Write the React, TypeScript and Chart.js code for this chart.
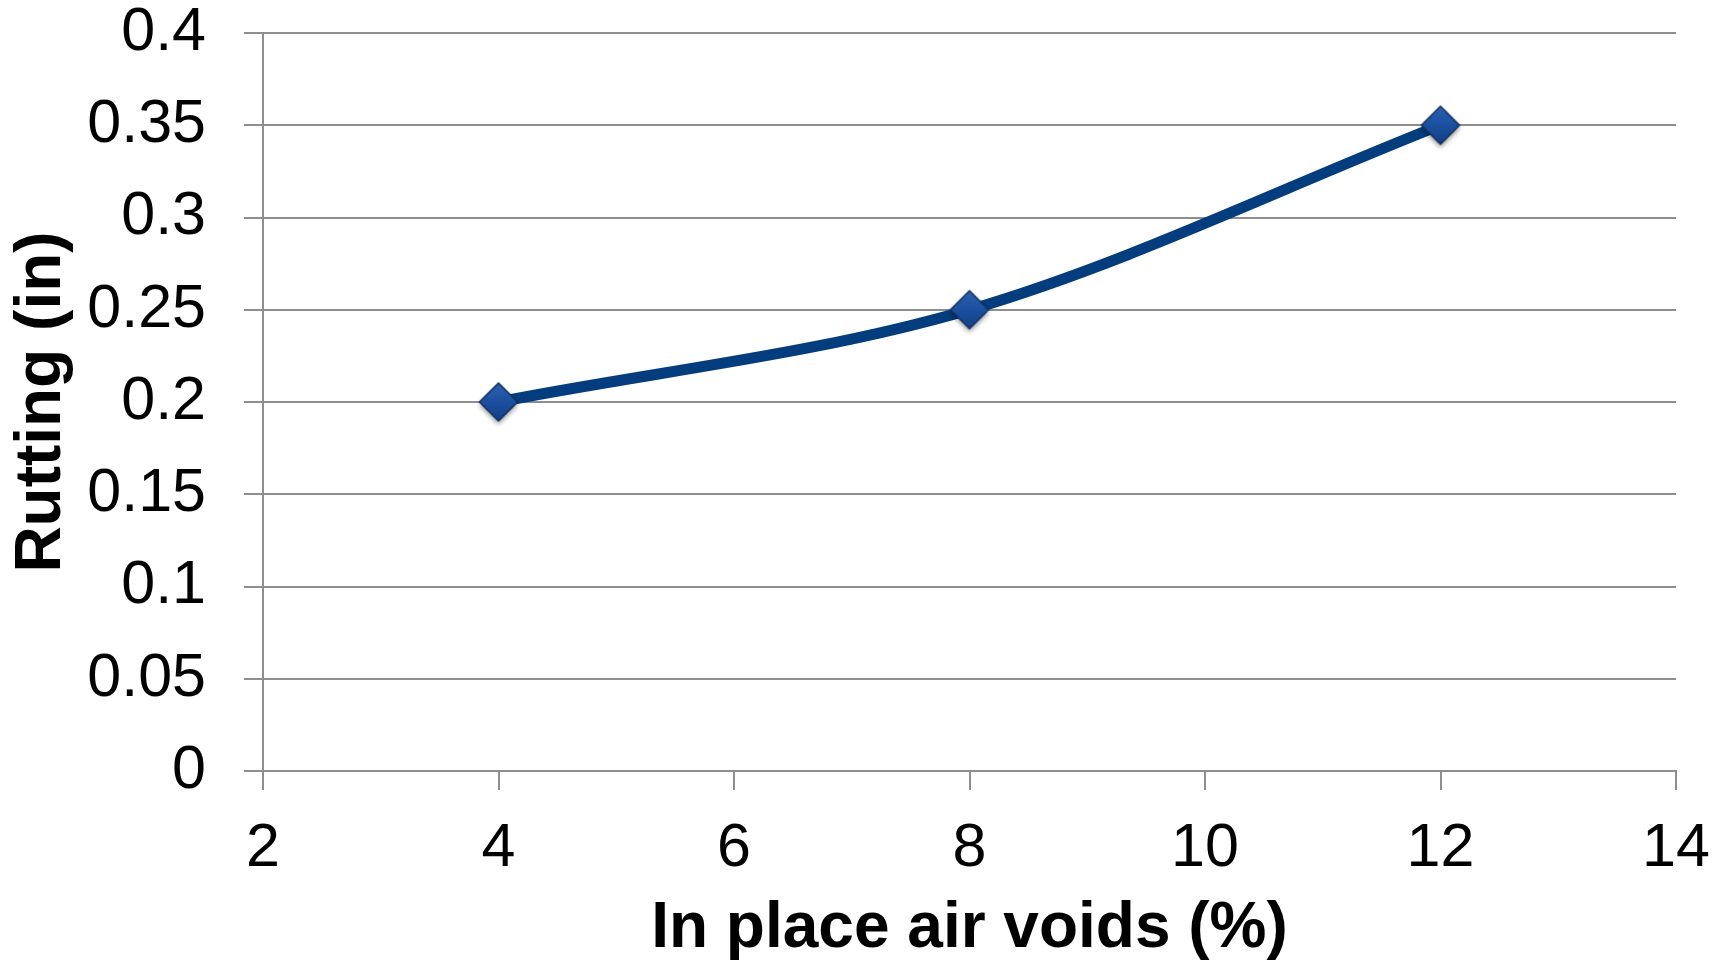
import React, { useEffect, useRef } from "react";
import { Chart, registerables } from "chart.js";

Chart.register(...registerables);

const airVoids = [4, 8, 12];
const rutting = [0.2, 0.25, 0.35];
const xTicks = [2, 4, 6, 8, 10, 12, 14];
const yTicks = [0, 0.05, 0.1, 0.15, 0.2, 0.25, 0.3, 0.35, 0.4];
const xTitle = "In place air voids (%)";
const yTitle = "Rutting (in)";

const W = 1726;
const H = 962;
const FONT = "'Liberation Sans', Arial, Helvetica, sans-serif";
const GRID = "#8e8e8e";

function makeDiamond(): HTMLCanvasElement {
  const size = 56;
  const c = document.createElement("canvas");
  c.width = size;
  c.height = size;
  const g = c.getContext("2d")!;
  const cx = size / 2;
  const cy = size / 2;
  const r = 19;
  g.save();
  g.shadowColor = "rgba(0,0,0,0.45)";
  g.shadowBlur = 5;
  g.shadowOffsetY = 3;
  g.beginPath();
  g.moveTo(cx, cy - r);
  g.lineTo(cx + r, cy);
  g.lineTo(cx, cy + r);
  g.lineTo(cx - r, cy);
  g.closePath();
  const grad = g.createLinearGradient(0, cy - r, 0, cy + r);
  grad.addColorStop(0, "#2d61b0");
  grad.addColorStop(0.5, "#1b4f9f");
  grad.addColorStop(1, "#143f85");
  g.fillStyle = grad;
  g.fill();
  g.restore();
  g.lineWidth = 1.5;
  g.strokeStyle = "#10305f";
  g.beginPath();
  g.moveTo(cx, cy - r);
  g.lineTo(cx + r, cy);
  g.lineTo(cx, cy + r);
  g.lineTo(cx - r, cy);
  g.closePath();
  g.stroke();
  return c;
}

export default function App() {
  const ref = useRef<HTMLCanvasElement | null>(null);

  useEffect(() => {
    document.body.style.margin = "0";
    const canvas = ref.current;
    if (!canvas) return;
    const marker = makeDiamond();
    const chart = new Chart(canvas, {
      type: "line",
      data: {
        datasets: [
          {
            data: airVoids.map((x, i) => ({ x, y: rutting[i] })),
            borderColor: "#033d7d",
            borderWidth: 11,
            tension: 0.33,
            pointStyle: marker as any,
            pointRadius: 19,
            fill: false,
          },
        ],
      },
      options: {
        animation: false,
        responsive: false,
        maintainAspectRatio: false,
        devicePixelRatio: 1,
        layout: { padding: { left: 0, right: 50, top: 33, bottom: 0 } },
        plugins: { legend: { display: false }, tooltip: { enabled: false } },
        scales: {
          x: {
            type: "linear",
            min: xTicks[0],
            max: xTicks[xTicks.length - 1],
            afterBuildTicks: (s: any) => {
              s.ticks = xTicks.map((v) => ({ value: v }));
            },
            afterFit: (s: any) => {
              s.height = H - 771;
              s.paddingLeft = 0;
              s.paddingRight = 0;
            },
            ticks: {
              callback: (v: any) => String(v),
              font: { family: FONT, size: 61 },
              color: "#000",
              padding: 23,
              maxRotation: 0,
              autoSkip: false,
            },
            grid: {
              drawOnChartArea: false,
              drawTicks: true,
              tickLength: 19,
              color: GRID,
              lineWidth: 2,
            },
            border: { display: true, color: GRID, width: 2 },
            title: {
              display: true,
              text: xTitle,
              font: { family: FONT, size: 64, weight: "bold", lineHeight: 1 },
              color: "#000",
              padding: { top: 0, bottom: 1 },
            },
          },
          y: {
            type: "linear",
            min: yTicks[0],
            max: yTicks[yTicks.length - 1],
            afterBuildTicks: (s: any) => {
              s.ticks = yTicks.map((v) => ({ value: v }));
            },
            afterFit: (s: any) => {
              s.width = 263;
              s.paddingTop = 0;
              s.paddingBottom = 0;
            },
            ticks: {
              callback: (v: any) => String(Number(Number(v).toFixed(2))),
              font: { family: FONT, size: 61 },
              color: "#000",
              padding: 38,
              autoSkip: false,
            },
            grid: {
              drawOnChartArea: true,
              drawTicks: true,
              tickLength: 19,
              color: GRID,
              lineWidth: 2,
            },
            border: { display: true, color: GRID, width: 2 },
            title: {
              display: true,
              text: yTitle,
              font: { family: FONT, size: 64, weight: "bold", lineHeight: 1 },
              color: "#000",
              padding: { top: 10, bottom: 0 },
            },
          },
        },
      },
    });
    return () => chart.destroy();
  }, []);

  return (
    <div style={{ position: "fixed", left: 0, top: 0, width: W, height: H, background: "#fff" }}>
      <canvas ref={ref} width={W} height={H} style={{ width: W, height: H, display: "block" }} />
    </div>
  );
}
